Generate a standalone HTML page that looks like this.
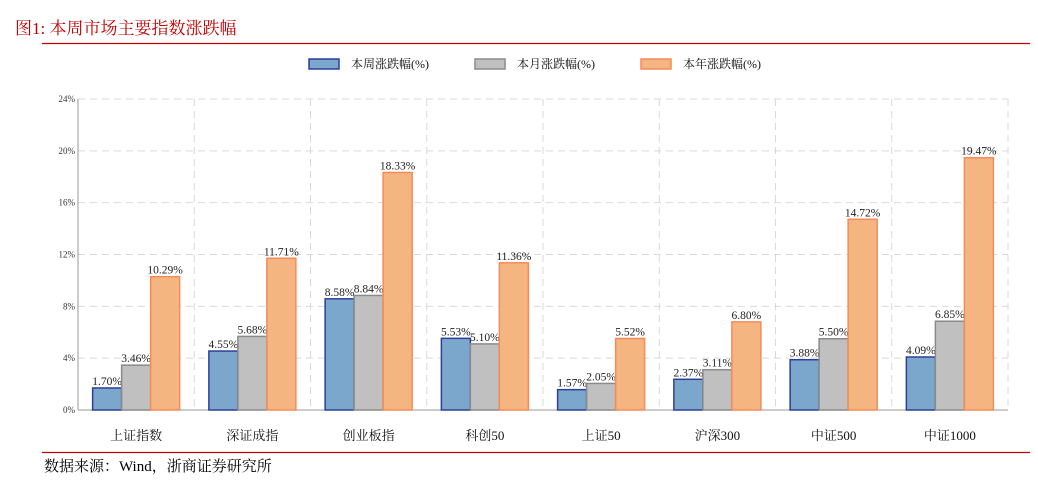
<!DOCTYPE html>
<html><head><meta charset="utf-8"><style>
body{margin:0;background:#fff;width:1038px;height:492px;overflow:hidden;font-family:"Liberation Serif","Noto Serif CJK SC",serif}
</style></head><body>
<svg width="1038" height="492" xmlns="http://www.w3.org/2000/svg">
<text x="15" y="34" font-size="17" fill="#c00000" font-family="Liberation Serif, Noto Serif CJK SC, serif">图1:  本周市场主要指数涨跌幅</text>
<line x1="42" y1="43.5" x2="1030" y2="43.5" stroke="#c00000" stroke-width="1.3"/>
<g id="legend"></g>
<g id="plot"></g>
<line x1="42" y1="452.5" x2="1030" y2="452.5" stroke="#c00000" stroke-width="1.3"/>
<text x="44" y="471" font-size="15" fill="#000">数据来源：Wind，浙商证券研究所</text>
</svg>
<script>
const categories=["上证指数","深证成指","创业板指","科创50","上证50","沪深300","中证500","中证1000"];
const weekly=[1.70,4.55,8.58,5.53,1.57,2.37,3.88,4.09];
const monthly=[3.46,5.68,8.84,5.10,2.05,3.11,5.50,6.85];
const yearly=[10.29,11.71,18.33,11.36,5.52,6.80,14.72,19.47];
const seriesNames=["本周涨跌幅(%)","本月涨跌幅(%)","本年涨跌幅(%)"];
const yTicks=[0,4,8,12,16,20,24];
const NS="http://www.w3.org/2000/svg";
const X0=78,X1=1008,Y0=410,Y1=99,YMAX=24;
const y=v=>Y0-(v/YMAX)*(Y0-Y1);
const gw=(X1-X0)/categories.length;
const x=i=>X0+gw*i;
const fills=["#7ba7cc","#c0c0c0","#f5b580"],strokes=["#2e3f9a","#8a8a8a","#f58a5a"];
function mk(tag,attrs,parent){const e=document.createElementNS(NS,tag);for(const k in attrs)e.setAttribute(k,attrs[k]);parent.appendChild(e);return e;}
const plot=document.getElementById('plot');
yTicks.forEach(t=>{
 if(t>0){const g=mk('line',{x1:X0,x2:X1,y1:y(t),y2:y(t),stroke:'#d9d9d9','stroke-dasharray':'7,5'},plot);
 
 }
 const tl=mk('text',{x:X0-3,y:y(t)+3,'font-size':9,'text-anchor':'end',fill:'#333'},plot);
 tl.textContent=t+'%';
 
 
});
for(let i=1;i<=categories.length;i++){
 const g=mk('line',{x1:x(i),x2:x(i),y1:Y1,y2:Y0,stroke:'#d9d9d9','stroke-dasharray':'7,5'},plot);
 
 
}
const ax=mk('line',{x1:X0,x2:X0,y1:Y1,y2:Y0,stroke:'#999'},plot);


const bx=mk('line',{x1:X0,x2:X1,y1:Y0,y2:Y0,stroke:'#999'},plot);


const series=[weekly,monthly,yearly];
const bw=29;
categories.forEach((c,i)=>{
 const cx=x(i)+gw/2;
 series.forEach((s,k)=>{
  const bx0=cx-1.5*bw+k*bw;
  const r=mk('rect',{x:bx0,y:y(s[i]),width:bw,height:Y0-y(s[i]),fill:fills[k],stroke:strokes[k],'stroke-width':1.5},plot);
  
  
  const t=mk('text',{x:bx0+bw/2,y:y(s[i])-3,'font-size':11.5,'text-anchor':'middle',fill:'#222'},plot);
  t.textContent=s[i].toFixed(2)+'%';
  
  
 });
 const l=mk('text',{x:cx,y:440,'font-size':13,'text-anchor':'middle',fill:'#111'},plot);
 l.textContent=c;
 
 
});
const lg=document.getElementById('legend');
const lx=[309,475,641];
seriesNames.forEach((n,k)=>{
 const r=mk('rect',{x:lx[k],y:59,width:30,height:10,fill:fills[k],stroke:strokes[k],'stroke-width':1.5},lg);
 
 
 const t=mk('text',{x:lx[k]+42,y:68,'font-size':12,fill:'#111'},lg);
 t.textContent=n;
 
 
});
</script>
</body></html>
